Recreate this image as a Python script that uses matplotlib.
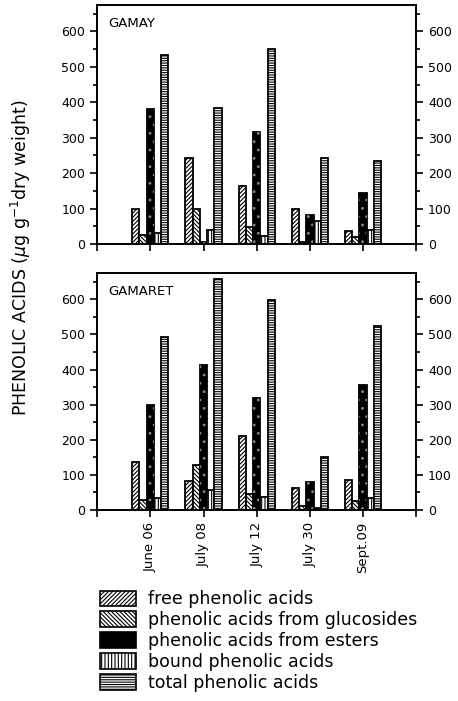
import matplotlib.pyplot as plt
from matplotlib.patches import Patch
from matplotlib.ticker import MultipleLocator
import numpy as np

# harvest dates
dates = ["June 06", "July 08", "July 12", "July 30", "Sept.09"]

# phenolic acid fractions (ug/g dry weight), cultivar Gamay
gamay_free = [100, 243, 165, 98, 36]
gamay_gluc = [26, 98, 48, 5, 19]
gamay_esters = [381, 5, 315, 82, 143]
gamay_bound = [31, 38, 23, 64, 40]
gamay_total = [533, 383, 550, 243, 234]

# cultivar Gamaret
gamaret_free = [138, 82, 211, 62, 84]
gamaret_gluc = [28, 129, 45, 11, 25]
gamaret_esters = [299, 414, 318, 79, 355]
gamaret_bound = [33, 56, 36, 6, 33]
gamaret_total = [493, 659, 597, 152, 524]

labels = ["free phenolic acids", "phenolic acids from glucosides",
          "phenolic acids from esters", "bound phenolic acids",
          "total phenolic acids"]
hatches = ["////////", "\\\\\\\\\\\\\\\\", None, "|||||", "-------"]

plt.rcParams["font.family"] = "DejaVu Sans"
plt.rcParams["hatch.linewidth"] = 0.8

fig = plt.figure(figsize=(4.58, 7.01), dpi=100)
ax1 = fig.add_axes([0.212, 0.652, 0.697, 0.341])
ax2 = fig.add_axes([0.212, 0.2725, 0.697, 0.338])

x = np.arange(1, len(dates) + 1)
w = 0.136


def draw_panel(ax, series, name):
    for i, vals in enumerate(series):
        pos = x + (i - 2) * w
        if hatches[i] is None:
            # esters: black bars with a faint grey speckle
            ax.bar(pos, vals, w, color="black", edgecolor="black", lw=1.3)
            ax.bar(pos, vals, w, color="none", edgecolor="#888888",
                   hatch="..", lw=0)
        else:
            ax.bar(pos, vals, w, color="white", edgecolor="black",
                   hatch=hatches[i], lw=1.3)
    ax.set_xlim(0, 6)
    ax.set_ylim(0, 675)
    ax.yaxis.set_major_locator(MultipleLocator(100))
    ax.yaxis.set_minor_locator(MultipleLocator(50))
    ax.set_xticks(range(0, 7))
    ax.tick_params(axis="both", which="both", direction="out", width=1.2,
                   labelsize=9, right=True, labelright=True)
    ax.tick_params(axis="y", which="major", length=5)
    ax.tick_params(axis="y", which="minor", length=3)
    ax.tick_params(axis="x", length=5)
    for s in ax.spines.values():
        s.set_linewidth(1.4)
    ax.text(0.035, 0.95, name, transform=ax.transAxes, fontsize=9.5,
            va="top", ha="left")


draw_panel(ax1, [gamay_free, gamay_gluc, gamay_esters, gamay_bound,
                 gamay_total], "GAMAY")
draw_panel(ax2, [gamaret_free, gamaret_gluc, gamaret_esters, gamaret_bound,
                 gamaret_total], "GAMARET")

ax1.set_xticklabels([])
ax2.set_xticklabels([""] + dates + [""], rotation=90, fontsize=9.5)

fig.text(0.045, 0.632, r"PHENOLIC ACIDS ($\mu$g g$^{-1}$dry weight)",
         rotation=90, ha="center", va="center", fontsize=12.5)

handles = []
for i in range(5):
    if hatches[i] is None:
        handles.append(Patch(facecolor="black", edgecolor="black", lw=1.2))
    else:
        handles.append(Patch(facecolor="white", edgecolor="black",
                             hatch=hatches[i], lw=1.2))
fig.legend(handles, labels, loc="upper left", bbox_to_anchor=(0.218, 0.158),
           frameon=False, fontsize=12.5, handlelength=2.1, handleheight=1.0,
           handletextpad=0.7, labelspacing=0.17, borderpad=0, borderaxespad=0)

fig.savefig("out.png", dpi=100)
